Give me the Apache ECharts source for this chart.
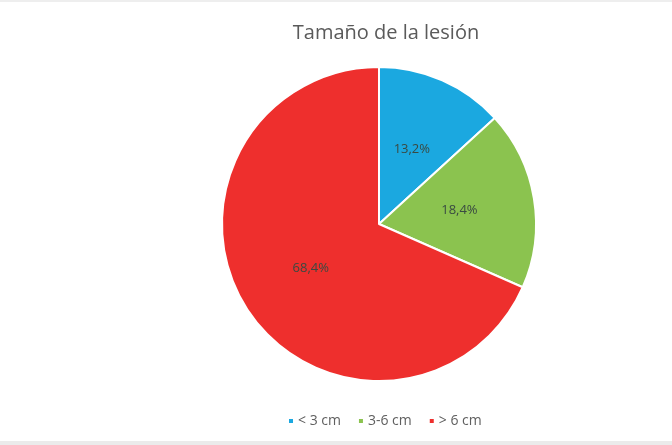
<!DOCTYPE html>
<html>
<head>
<meta charset="utf-8">
<script src="https://cdn.jsdelivr.net/npm/echarts@6/dist/echarts.min.js"></script>
<style>
  html, body { margin: 0; padding: 0; background: #ffffff; }
  #chart { width: 672px; height: 445px; }
</style>
</head>
<body>
<div id="chart"></div>
<script>
// Lesion size distribution (percent of cases)
const categories = ['< 3 cm', '3-6 cm', '> 6 cm'];
const shares = [13.2, 18.4, 68.4];
const sliceColors = ['#1ba8e0', '#8bc34f', '#ee2f2d'];

const FONT = '"Open Sans", Lato, sans-serif';
const chart = echarts.init(document.getElementById('chart'), null, { renderer: 'canvas' });

chart.setOption({
  backgroundColor: '#ffffff',
  animation: false,
  color: sliceColors,
  title: {
    text: 'Tamaño de la lesión',
    left: 381,
    textAlign: 'center',
    top: 18,
    textStyle: {
      fontFamily: FONT,
      fontSize: 20,
      fontWeight: 'normal',
      color: '#5a5a5a'
    }
  },
  legend: {
    data: categories,
    left: 282,
    top: 409,
    itemWidth: 6,
    itemHeight: 6,
    itemGap: 16,
    icon: 'rect',
    textStyle: {
      fontFamily: FONT,
      fontSize: 14,
      color: '#5f5f5f',
      padding: [0, 0, 0, -1]
    }
  },
  graphic: [
    { type: 'rect', left: 0, top: 0, shape: { width: 672, height: 2 }, style: { fill: '#eeeeee' } },
    { type: 'rect', left: 0, top: 441, shape: { width: 672, height: 4 }, style: { fill: '#ebebeb' } }
  ],
  series: [{
    type: 'pie',
    center: [379, 224],
    radius: [0, 157],
    startAngle: 90,
    clockwise: true,
    avoidLabelOverlap: false,
    itemStyle: { borderColor: '#ffffff', borderWidth: 2 },
    label: {
      show: true,
      position: 'inside',
      formatter: p => p.value.toFixed(1).replace('.', ',') + '%',
      fontFamily: FONT,
      fontSize: 13,
      color: '#3a4a42'
    },
    labelLine: { show: false },
    emphasis: { disabled: true },
    data: categories.map((name, i) => ({ name, value: shares[i] }))
  }]
});
</script>
</body>
</html>
